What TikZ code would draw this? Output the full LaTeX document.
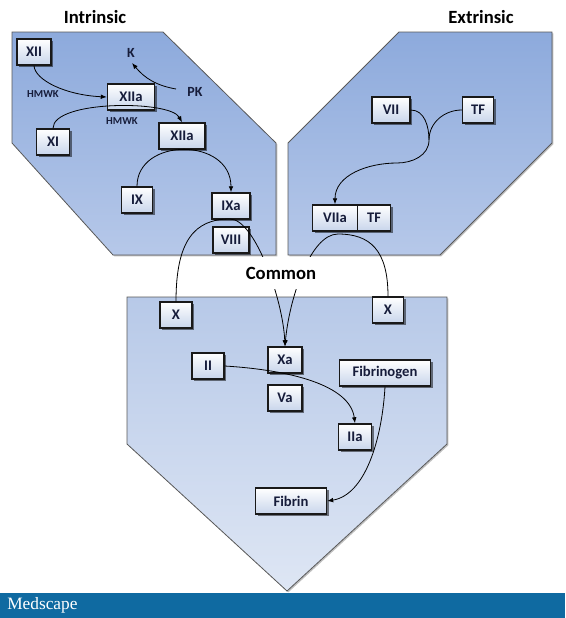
\documentclass[tikz,border=0pt]{standalone}
\usepackage{fontspec}
\setmainfont{Carlito}
\newfontfamily\logofont{Liberation Serif}
\usetikzlibrary{shadows,arrows.meta}
\definecolor{boxblue}{RGB}{200,213,235}
\definecolor{panetop}{RGB}{141,170,220}
\definecolor{panebot}{RGB}{182,200,233}
\definecolor{comtop}{RGB}{183,201,232}
\definecolor{combot}{RGB}{222,230,244}
\definecolor{band}{RGB}{15,106,161}
\definecolor{txt}{RGB}{22,28,58}
\begin{document}
\begin{tikzpicture}[x=0.75pt,y=0.75pt,
  pane/.style={draw=black!65, line width=0.6pt, top color=panetop, bottom color=panebot,
    drop shadow={shadow xshift=1pt, shadow yshift=-1pt, fill=black, opacity=0.25}},
  cpane/.style={pane, top color=comtop, bottom color=combot},
  fbox/.style={draw=black!90, line width=1.1pt, top color=white, bottom color=boxblue,
    text=txt, font=\bfseries\fontsize{11}{13}\selectfont, minimum height=19.5pt, inner sep=0pt,
    drop shadow={shadow xshift=1.5pt, shadow yshift=-1.5pt, fill=black, opacity=0.5}},
  bw/.style={minimum width=#1*0.75pt},
  lbl/.style={text=txt, font=\bfseries\fontsize{10.5}{12}\selectfont, inner sep=1pt},
  small/.style={text=txt, font=\bfseries\fontsize{8}{9}\selectfont, inner sep=1pt},
  title/.style={text=black, font=\bfseries\fontsize{14}{16}\selectfont},
  conn/.style={line width=0.6pt},
  arr/.style={conn, -{Latex[length=4.5pt,width=3.5pt]}}]
\useasboundingbox (0,0) rectangle (565,-618);
% panels
\path[pane] (12,-32) -- (163,-32) -- (276,-143) -- (276,-255) -- (113,-255) -- (12,-143) -- cycle;
\path[pane] (399,-32) -- (552,-32) -- (552,-143) -- (440,-255) -- (288,-255) -- (288,-143) -- cycle;
\path[cpane] (127,-297) -- (447,-297) -- (447,-444) -- (287,-591) -- (127,-444) -- cycle;
% band
\fill[band] (0,-593) rectangle (565,-618);
\node[anchor=west, text=white, font=\logofont\fontsize{13}{15}\selectfont, inner sep=0pt] (logo) at (7,-605) {Medscape};
% titles
\node[title] (tin) at (95,-17) {Intrinsic};
\node[title] (tex) at (481,-17) {Extrinsic};
% boxes
\node[fbox,bw=34] (XII) at (34,-52) {XII};
\node[fbox,bw=47] (XIIa) at (131,-97) {XIIa};
\node[fbox,bw=33] (XI) at (53,-142) {XI};
\node[fbox,bw=46] (XIIb) at (182,-136) {XIIa};
\node[fbox,bw=31] (IX) at (137,-200) {IX};
\node[fbox,bw=38] (IXa) at (231,-206) {IXa};
\node[fbox,bw=36] (VIII) at (231,-240) {VIII};
\node[fbox,bw=38] (VII) at (391,-110) {VII};
\node[fbox,bw=31] (TF) at (478,-110) {TF};
\node[fbox,bw=45] (VIIa) at (335,-218) {VIIa};
\node[fbox,bw=33] (TFb) at (374,-218) {TF};
\node[fbox,bw=32] (Xl) at (176,-315) {X};
\node[fbox,bw=31] (Xr) at (388,-310) {X};
\node[fbox,bw=34] (Xa) at (285,-360) {Xa};
\node[fbox,bw=32] (II) at (208,-366) {II};
\node[fbox,bw=34] (Va) at (285,-398) {Va};
\node[fbox,bw=91] (Fgn) at (385,-373) {Fibrinogen};
\node[fbox,bw=33] (IIa) at (355,-437) {IIa};
\node[fbox,bw=71] (Fbn) at (291,-501) {Fibrin};
% labels
\node[lbl] (K) at (131,-53) {K};
\node[lbl] (PK) at (195,-92) {PK};
\node[small] (hm1) at (43,-94) {HMWK};
\node[small] (hm2) at (122,-121) {HMWK};
% connectors
\coordinate (pkout) at (176,-89);
\coordinate (kin) at (132,-63);
\draw[arr] (pkout) to[out=170,in=-50] (kin);
\draw[arr] (XII.south) .. controls (35,-80) and (65,-95) .. (XIIa.west);
\draw[arr] (XI.north) .. controls (53,-100) and (170,-100) .. (XIIb.north);
\draw[arr] (IX.north) .. controls (137,-137) and (231,-137) .. (IXa.north);
\coordinate (lpk) at (230,-219);
\coordinate (rpk) at (338,-234);
\draw[arr] (Xl.north) .. controls (176,-240) and (195,-219) .. (lpk) .. controls (255,-219) and (283,-300) .. (Xa.north);
\draw[arr] (Xr.north) .. controls (388,-250) and (370,-234) .. (rpk) .. controls (310,-234) and (289,-300) .. (Xa.north);
\coordinate (m) at (429,-140);
\coordinate (bend) at (397,-163);
\draw[conn] (VII.east) to[out=0,in=90] (m);
\draw[arr] (TF.west) to[out=180,in=90] (m) to[out=-90,in=0] (bend) to[out=180,in=90] (VIIa.north);
\draw[arr] (II.east) .. controls (290,-370) and (350,-385) .. (IIa.north);
\draw[arr] (Fgn.south) .. controls (382,-440) and (365,-495) .. (Fbn.east);
% common label over the lines
\node[fill=white, text=black, font=\bfseries\fontsize{14}{16}\selectfont, minimum height=24pt, minimum width=80pt, inner sep=0pt] (com) at (281,-273) {Common};
\end{tikzpicture}
\end{document}
